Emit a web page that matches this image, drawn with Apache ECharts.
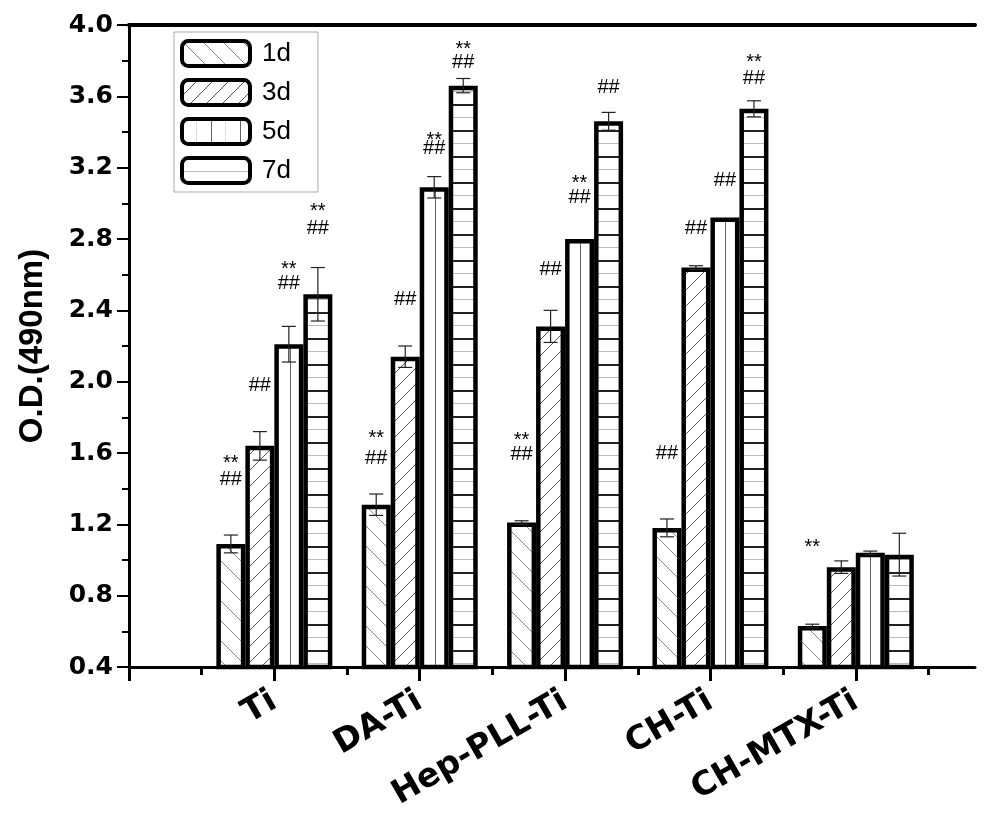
<!DOCTYPE html>
<html>
<head>
<meta charset="utf-8">
<script src="https://cdn.jsdelivr.net/npm/echarts@6/dist/echarts.min.js"></script>
<style>
html,body{margin:0;padding:0;background:#fff;}
#main{width:992px;height:817px;}
</style>
</head>
<body>
<div id="main"></div>
<script type="text/javascript">
	// 分组与天数
	var categories = ['Ti', 'DA-Ti', 'Hep-PLL-Ti', 'CH-Ti', 'CH-MTX-Ti'];
	var days = ['1d', '3d', '5d', '7d'];

	// O.D. 均值
	var d1 = [1.09, 1.31, 1.21, 1.18, 0.63];
	var d3 = [1.64, 2.14, 2.31, 2.64, 0.96];
	var d5 = [2.21, 3.09, 2.80, 2.92, 1.04];
	var d7 = [2.49, 3.66, 3.46, 3.53, 1.03];

	// 误差
	var e1 = [0.05, 0.06, 0.01, 0.05, 0.01];
	var e3 = [0.08, 0.06, 0.09, 0.01, 0.035];
	var e5 = [0.10, 0.06, 0.00, 0.00, 0.01];
	var e7 = [0.15, 0.04, 0.05, 0.045, 0.12];

	// 显著性标记：组、柱、高度、文字
	var annGroup = [0, 0, 0, 0, 0, 0, 0, 1, 1, 1, 1, 1, 1, 1, 2, 2, 2, 2, 2, 2, 3, 3, 3, 3, 3, 4];
	var annBar   = [0, 0, 1, 2, 2, 3, 3, 0, 0, 1, 2, 2, 3, 3, 0, 0, 1, 2, 2, 3, 0, 1, 2, 3, 3, 0];
	var annValue = [1.57, 1.45, 1.98, 2.655, 2.55, 2.98, 2.86,
	                1.71, 1.57, 2.46, 3.38, 3.305, 3.89, 3.79,
	                1.70, 1.59, 2.63, 3.14, 3.03, 3.65,
	                1.60, 2.86, 3.13, 3.82, 3.70,
	                1.10];
	var annText  = ['**', '##', '##', '**', '##', '**', '##',
	                '**', '##', '##', '**', '##', '**', '##',
	                '**', '##', '##', '**', '##', '##',
	                '##', '##', '##', '**', '##',
	                '**'];

	var means = [d1, d3, d5, d7];
	var errs = [e1, e3, e5, e7];
	var BAR_W = 29;
	var XMAX = 5.82;

	//填充纹理
	function makePattern(w, h, draw){
		var c = document.createElement('canvas');
		c.width = w;
		c.height = h;
		var ctx = c.getContext('2d');
		ctx.fillStyle = '#fff';
		ctx.fillRect(0, 0, w, h);
		draw(ctx, w, h);
		return {image: c, repeat: 'repeat'};
	}
	var patterns = [
		makePattern(20, 20, function(ctx, w, h){
			ctx.strokeStyle = '#888'; ctx.lineWidth = 1;
			ctx.beginPath(); ctx.moveTo(0, 0); ctx.lineTo(w, h); ctx.stroke();
		}),
		makePattern(16, 16, function(ctx, w, h){
			ctx.strokeStyle = '#555'; ctx.lineWidth = 1;
			ctx.beginPath(); ctx.moveTo(0, h); ctx.lineTo(w, 0); ctx.stroke();
		}),
		makePattern(29, 4, function(ctx, w, h){
			ctx.fillStyle = '#666'; ctx.fillRect(0, 0, 1, h);
			ctx.fillStyle = '#ddd'; ctx.fillRect(14, 0, 1, h);
		}),
		makePattern(4, 26, function(ctx, w, h){
			ctx.fillStyle = '#222'; ctx.fillRect(0, 0, w, 2);
			ctx.fillStyle = '#bbb'; ctx.fillRect(0, 13, w, 1);
		})
	];

	var font = 'DejaVu Sans';
	var series = [];
	days.forEach(function(name, k){
		series.push({
			name: name,
			type: 'bar',
			data: means[k].map(function(v, i){ return [i + 1, v]; }),
			barWidth: BAR_W,
			barGap: '0%',
			itemStyle: {color: patterns[k], borderColor: '#000', borderWidth: 4.5},
			z: 2
		});
	});

	// 误差线
	var errData = [];
	days.forEach(function(name, k){
		means[k].forEach(function(v, i){
			errData.push([i + 1, v, errs[k][i], k]);
		});
	});
	series.push({
		type: 'custom',
		silent: true,
		z: 5,
		data: errData,
		renderItem: function(params, api){
			var x = api.value(0), y = api.value(1), e = api.value(2), k = api.value(3);
			if(!e) return;
			var px = api.coord([x, y])[0] + (k - 1.5) * BAR_W;
			var hi = api.coord([x, y + e])[1];
			var lo = api.coord([x, y - e])[1];
			var st = {stroke: '#222', lineWidth: 1.2};
			return {
				type: 'group',
				children: [
					{type: 'line', shape: {x1: px, y1: hi, x2: px, y2: lo}, style: st},
					{type: 'line', shape: {x1: px - 7, y1: hi, x2: px + 7, y2: hi}, style: st},
					{type: 'line', shape: {x1: px - 7, y1: lo, x2: px + 7, y2: lo}, style: st}
				]
			};
		}
	});

	// 显著性标记
	series.push({
		type: 'custom',
		silent: true,
		z: 6,
		data: annValue.map(function(v, i){ return [annGroup[i] + 1, v, annBar[i]]; }),
		renderItem: function(params, api){
			var i = params.dataIndex;
			var p = api.coord([api.value(0), api.value(1)]);
			var txt = annText[i];
			return {
				type: 'text',
				x: p[0] + (api.value(2) - 1.5) * BAR_W,
				y: p[1] + (txt === '**' ? 5 : 0),
				style: {text: txt, fill: '#000', font: '20px "Liberation Sans"', align: 'center', verticalAlign: 'middle'}
			};
		}
	});

	var myChart = echarts.init(document.getElementById('main'));
	var option = {
		animation: false,
		backgroundColor: '#fff',
		grid: {left: 129, right: 17, top: 25, bottom: 150},
		legend: {
			data: days,
			orient: 'vertical',
			left: 174,
			top: 32,
			padding: [7, 27, 7, 6],
			itemWidth: 68,
			itemHeight: 25,
			itemGap: 10,
			borderColor: '#aaa',
			borderWidth: 1,
			itemStyle: {borderColor: '#000', borderWidth: 4},
			textStyle: {fontSize: 26, fontFamily: 'Liberation Sans', color: '#000', padding: [0, 0, 0, 7]}
		},
		xAxis: [
			{
				type: 'value', min: 0, max: XMAX, position: 'bottom',
				axisLine: {lineStyle: {color: '#000', width: 3}},
				axisTick: {customValues: [0, 1, 2, 3, 4, 5], length: 14, lineStyle: {color: '#000', width: 3}},
				axisLabel: {
					customValues: [1, 2, 3, 4, 5],
					formatter: function(v){ return categories[Math.round(v) - 1]; },
					rotate: 30, fontSize: 33, fontWeight: 'bold', fontFamily: font, color: '#000', margin: 32
				},
				splitLine: {show: false}
			},
			{
				type: 'value', min: 0, max: XMAX, position: 'bottom',
				axisLine: {show: false},
				axisTick: {customValues: [0.5, 1.5, 2.5, 3.5, 4.5, 5.5], length: 8, lineStyle: {color: '#000', width: 3}},
				axisLabel: {show: false},
				splitLine: {show: false}
			},
			{
				type: 'value', min: 0, max: XMAX, position: 'top',
				axisLine: {lineStyle: {color: '#000', width: 4}},
				axisTick: {show: false},
				axisLabel: {show: false},
				splitLine: {show: false}
			}
		],
		yAxis: {
			type: 'value', min: 0.4, max: 4.0, interval: 0.4,
			axisLine: {show: true, lineStyle: {color: '#000', width: 3}},
			axisTick: {show: true, length: 12, lineStyle: {color: '#000', width: 2}},
			minorTick: {show: true, splitNumber: 2, length: 7, lineStyle: {color: '#000', width: 2}},
			axisLabel: {
				formatter: function(v){ return v.toFixed(1); },
				fontSize: 25, fontWeight: 'bold', fontFamily: font, color: '#000', margin: 16
			},
			splitLine: {show: false},
			name: 'O.D.(490nm)',
			nameLocation: 'middle',
			nameGap: 80,
			nameTextStyle: {fontSize: 33, fontWeight: 'bold', fontFamily: 'Liberation Sans', color: '#000'}
		},
		series: series
	};
	myChart.setOption(option);
</script>
</body>
</html>
